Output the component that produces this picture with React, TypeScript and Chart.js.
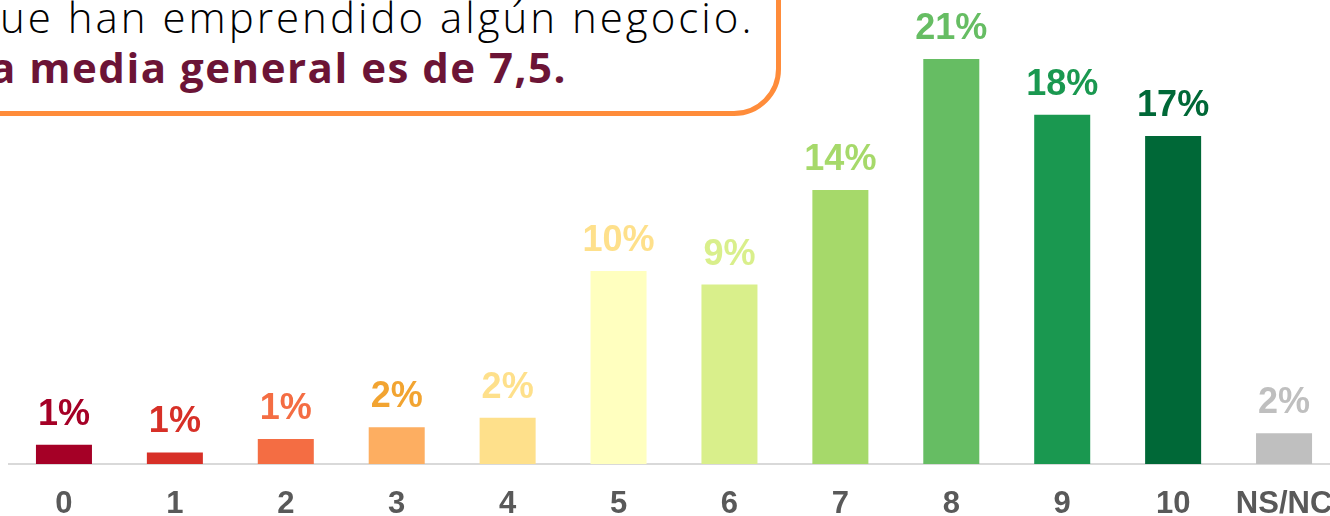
import React, { useEffect, useRef } from "react";
import { Chart, registerables } from "chart.js";

Chart.register(...registerables);

const categories = ["0", "1", "2", "3", "4", "5", "6", "7", "8", "9", "10", "NS/NC"];
const values = [1.0, 0.6, 1.3, 1.9, 2.4, 10.0, 9.3, 14.2, 21.0, 18.1, 17.0, 1.6];
const valueLabels = ["1%", "1%", "1%", "2%", "2%", "10%", "9%", "14%", "21%", "18%", "17%", "2%"];
const barColors = ["#A50026", "#D73027", "#F46D43", "#FDAE61", "#FEE08B", "#FFFFBF", "#D9EF8B", "#A6D96A", "#66BD63", "#1A9850", "#006837", "#BFBFBF"];
const labelColors = ["#A50026", "#D73027", "#F46D43", "#F2A431", "#FEE08B", "#FEE08B", "#D9EF8B", "#A6D96A", "#66BD63", "#1A9850", "#006837", "#BFBFBF"];
const noteLine1 = "ue han emprendido algún negocio.";
const noteLine2 = "a media general es de 7,5.";

const valueLabelPlugin = {
  id: "valueLabels",
  afterDatasetsDraw(chart: any) {
    const ctx = chart.ctx;
    const meta = chart.getDatasetMeta(0);
    ctx.save();
    ctx.font = "bold 36px 'Liberation Sans', Arial, sans-serif";
    ctx.textAlign = "center";
    ctx.textBaseline = "alphabetic";
    meta.data.forEach((el: any, i: number) => {
      ctx.fillStyle = labelColors[i];
      ctx.fillText(valueLabels[i], el.x, el.y - 20);
    });
    ctx.restore();
  },
};

export default function App() {
  const ref = useRef<HTMLCanvasElement | null>(null);

  useEffect(() => {
    if (!ref.current) return;
    const chart = new Chart(ref.current, {
      type: "bar",
      data: {
        labels: categories,
        datasets: [
          {
            data: values,
            backgroundColor: barColors,
            borderWidth: 0,
            categoryPercentage: 1,
            barPercentage: 0.505,
          },
        ],
      },
      options: {
        responsive: false,
        animation: false,
        layout: { padding: { left: 8.5, right: 0.5, top: 39.6, bottom: 0 } },
        plugins: {
          legend: { display: false },
          tooltip: { enabled: false },
        },
        scales: {
          x: {
            z: 1,
            grid: { display: false, drawTicks: false },
            border: { display: true, color: "#D9D9D9", width: 2 },
            ticks: {
              color: "#595959",
              padding: 22,
              maxRotation: 0,
              autoSkip: false,
              font: { family: "'Liberation Sans', Arial, sans-serif", size: 31, weight: "bold", lineHeight: 1.2 },
            },
            afterFit: (scale: any) => {
              scale.height = 56;
              scale.paddingLeft = 0;
              scale.paddingRight = 0;
              scale.paddingTop = 0;
              scale.paddingBottom = 0;
            },
          },
          y: {
            display: false,
            min: 0,
            max: 22,
          },
        },
      },
      plugins: [valueLabelPlugin],
    });
    return () => chart.destroy();
  }, []);

  return (
    <div
      style={{
        position: "absolute",
        left: 0,
        top: 0,
        width: 1330,
        height: 516,
        overflow: "hidden",
        background: "#fff",
      }}
    >
      <canvas
        ref={ref}
        width={1340}
        height={520}
        style={{ position: "absolute", left: 0, top: 0, width: 1340, height: 520 }}
      />
      <div
        style={{
          position: "absolute",
          left: -100,
          top: -100,
          width: 880.5,
          height: 216,
          boxSizing: "border-box",
          border: "5px solid #FF8C3A",
          borderBottomRightRadius: 47,
          background: "#fff",
        }}
      />
      <div
        style={{
          position: "absolute",
          left: 0,
          top: -4.5,
          fontFamily: "'Open Sans', sans-serif",
          fontWeight: 300,
          fontSize: 42,
          lineHeight: "42px",
          letterSpacing: 3,
          color: "#000000",
          whiteSpace: "nowrap",
        }}
      >
        {noteLine1}
      </div>
      <div
        style={{
          position: "absolute",
          left: -10,
          top: 45.7,
          fontFamily: "'Open Sans', sans-serif",
          fontWeight: 700,
          fontSize: 42,
          lineHeight: "42px",
          letterSpacing: 1.5,
          color: "#6C1436",
          whiteSpace: "nowrap",
        }}
      >
        {noteLine2}
      </div>
    </div>
  );
}
